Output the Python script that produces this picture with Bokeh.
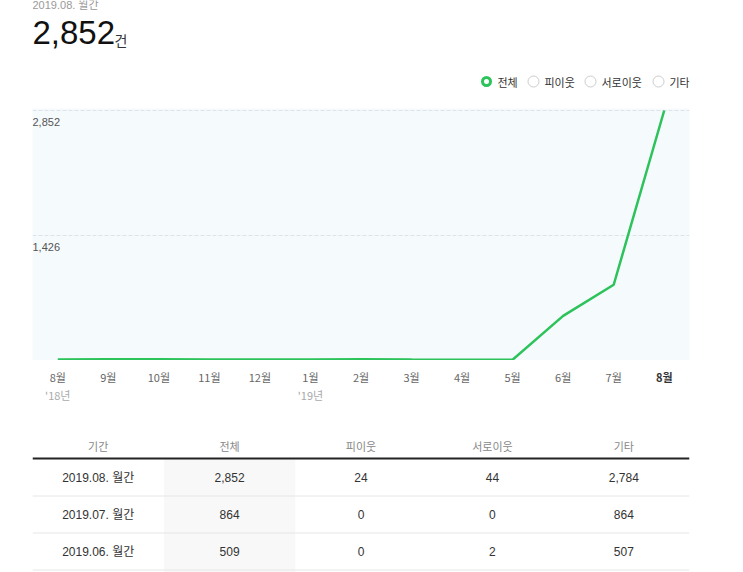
from bokeh.plotting import figure
from bokeh.layouts import column
from bokeh.models import Range1d, ColumnDataSource, FixedTicker
from bokeh.core.properties import value
from bokeh.embed import file_html
from bokeh.resources import INLINE

# ---------------- data ----------------
months = ["8월", "9월", "10월", "11월", "12월", "1월", "2월", "3월", "4월", "5월", "6월", "7월", "8월"]
year_labels = ["'18년", "'19년"]
year_index = [0, 5]
total = [12, 14, 13, 11, 10, 12, 15, 10, 8, 9, 509, 864, 2852]
y_ticks = [1426, 2852]
series_names = ["전체", "피이웃", "서로이웃", "기타"]
period_label = "2019.08. 월간"
unit_label = "건"
table_headers = ["기간", "전체", "피이웃", "서로이웃", "기타"]
table_periods = ["2019.08. 월간", "2019.07. 월간", "2019.06. 월간"]
table_total = [2852, 864, 509]
table_piiut = [24, 0, 0]
table_seoro = [44, 0, 2]
table_gita = [2784, 864, 507]

# ---------------- styles ----------------
KR = value("Noto Sans CJK KR")
NUM = value("Liberation Sans")
MIX = value("Liberation Sans, Noto Sans CJK KR")
GREEN = "#2cc35b"
W = 743
BL, BR = 32, 54
FRAME_L, FRAME_R = BL, W - BR


def base(height, xr, yr):
    f = figure(width=W, height=height, x_range=xr, y_range=yr,
               output_backend="svg", toolbar_location=None,
               min_border_left=BL, min_border_right=BR,
               min_border_top=0, min_border_bottom=0)
    f.outline_line_color = None
    f.background_fill_color = "white"
    f.border_fill_color = "white"
    f.xgrid.visible = False
    f.ygrid.visible = False
    f.axis.visible = False
    return f


# ---------------- header ----------------
HH = 108
h = base(HH, Range1d(FRAME_L, FRAME_R), Range1d(HH, 0))
h.text(x=[32], y=[4], text=[period_label], text_font=MIX, text_font_size="11px",
       text_color="#999999", text_baseline="middle", text_align="left")
h.text(x=[32], y=[32], text=[f"{total[-1]:,}"], text_font=NUM, text_font_size="33px",
       text_color="#111111", text_baseline="middle", text_align="left")
h.text(x=[114], y=[39], text=[unit_label], text_font=KR, text_font_size="14px",
       text_color="#333333", text_baseline="middle", text_align="left")
leg_x = [486, 533, 590, 658]
leg_y = [81] * len(series_names)
h.scatter(x=leg_x[1:], y=leg_y[1:], size=11, marker="circle",
          fill_color="white", line_color="#cccccc", line_width=1)
h.scatter(x=leg_x[:1], y=leg_y[:1], size=8, marker="circle",
          fill_color="white", line_color=GREEN, line_width=3)
h.text(x=[v + 11 for v in leg_x], y=leg_y, text=series_names, text_font=KR,
       text_font_size="11px", text_color="#333333", text_baseline="middle",
       text_align="left")

# ---------------- chart ----------------
x_idx = list(range(len(months)))
x_start, x_end = -0.5, len(months) - 0.5
xr = Range1d(x_start, x_end)
p = figure(width=W, height=252, x_range=xr, y_range=Range1d(0, 2875),
           output_backend="svg", toolbar_location=None,
           min_border_left=BL, min_border_right=BR,
           min_border_top=0, min_border_bottom=0)
p.outline_line_color = None
p.background_fill_color = "#f5fafd"
p.border_fill_color = "white"
p.xgrid.visible = False
p.ygrid.ticker = FixedTicker(ticks=y_ticks)
p.ygrid.grid_line_color = "#dde3e8"
p.ygrid.grid_line_dash = "4 2"
p.yaxis.visible = False
p.xaxis.ticker = FixedTicker(ticks=[])
p.xaxis.axis_line_color = "#c8c8c8"
p.xaxis.major_tick_out = 0
p.xaxis.major_tick_in = 0
p.xaxis.minor_tick_out = 0
p.xaxis.minor_tick_in = 0
p.xaxis.major_label_standoff = 0

p.line(x=x_idx, y=total, line_color=GREEN, line_width=2.5)
p.text(x=[x_start] * len(y_ticks), y=y_ticks, text=[f"{v:,}" for v in y_ticks],
       text_font=NUM, text_font_size="11px", text_color="#555555",
       text_baseline="top", text_align="left", y_offset=7)

# ---------------- x labels ----------------
LH = 50
lab = figure(width=W, height=LH, x_range=xr, y_range=Range1d(LH, 0),
             output_backend="svg", toolbar_location=None,
             min_border_left=BL, min_border_right=BR,
             min_border_top=0, min_border_bottom=0)
lab.outline_line_color = None
lab.border_fill_color = "white"
lab.grid.visible = False
lab.axis.visible = False
styles = ["normal"] * (len(months) - 1) + ["bold"]
colors = ["#666666"] * (len(months) - 1) + ["#333333"]
src = ColumnDataSource(dict(x=x_idx, y=[16] * len(months), t=months, s=styles, c=colors))
lab.text(x="x", y="y", text="t", text_font_style="s", text_color="c", source=src,
         text_font=KR, text_font_size="11px", text_baseline="middle", text_align="center")
lab.text(x=year_index, y=[34] * len(year_index), text=year_labels, text_font=KR,
         text_font_size="11px", text_color="#aaaaaa", text_baseline="middle",
         text_align="center")

# ---------------- table ----------------
TH = 162
ncol = len(table_headers)
t = figure(width=W, height=TH, x_range=Range1d(0, ncol), y_range=Range1d(TH, 0),
           output_backend="svg", toolbar_location=None,
           min_border_left=BL, min_border_right=BR,
           min_border_top=0, min_border_bottom=0)
t.outline_line_color = None
t.border_fill_color = "white"
t.background_fill_color = "white"
t.grid.visible = False
t.axis.visible = False

head_y, rule_y, row0, row_h = 35, 48, 67, 37
nrow = len(table_periods)
t.quad(left=[1], right=[2], top=[rule_y], bottom=[TH],
       fill_color="#f8f8f8", line_color=None)
for i in range(nrow):
    sy = row0 + row_h * i + row_h / 2
    t.line(x=[0, ncol], y=[sy, sy], line_color="#e6e6e6", line_width=1)
t.line(x=[0, ncol], y=[rule_y, rule_y], line_color="#222222", line_width=2)
t.text(x=[c + 0.5 for c in range(ncol)], y=[head_y] * ncol, text=table_headers,
       text_font=KR, text_font_size="11px", text_color="#888888",
       text_baseline="middle", text_align="center")
rows_y = [row0 + row_h * i for i in range(nrow)]
t.text(x=[0.5] * nrow, y=rows_y, text=table_periods, text_font=MIX,
       text_font_size="12px", text_color="#333333", text_baseline="middle",
       text_align="center")
for c, vals in enumerate([table_total, table_piiut, table_seoro, table_gita], start=1):
    t.text(x=[c + 0.5] * nrow, y=rows_y, text=[f"{v:,}" for v in vals], text_font=NUM,
           text_font_size="12px", text_color="#333333", text_baseline="middle",
           text_align="center")

layout = column(h, p, lab, t, spacing=0)
open("out.html", "w").write(file_html(layout, INLINE))
